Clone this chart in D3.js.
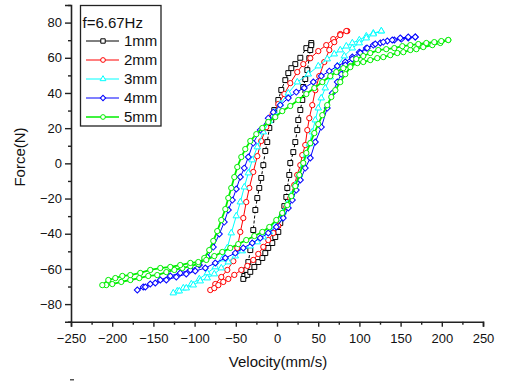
<!DOCTYPE html>
<html>
<head>
<meta charset="utf-8">
<script src="https://cdn.jsdelivr.net/npm/d3@7"></script>
<style>
  body { margin: 0; background: #fff; }
  svg { display: block; font-family: "Liberation Sans", Arial, sans-serif; }
</style>
</head>
<body>
<div id="container"></div>
<script>
// series labels
const seriesNames = ["1mm", "2mm", "3mm", "4mm", "5mm"];
const legendTitle = "f=6.67Hz";
const xTicks = [-250, -200, -150, -100, -50, 0, 50, 100, 150, 200, 250];
const yTicks = [-80, -60, -40, -20, 0, 20, 40, 60, 80];

// 1mm loop (velocity mm/s, force N)
const vel1mm = [41.6, 35.6, 28.3, 22.2, 17.4, 13.7, 10.1, 5.2, 1.6, -3.3, -6.9, -9.3, -11.8, -14.2, -16.6, -19.1, -21.5, -23.9, -26.3, -28.8, -32.4, -34.8, -37.3, -39.7, -40.9,
  -36.0, -32.4, -27.5, -22.7, -17.8, -14.2, -10.6, -5.7, -2.1, 1.6, 4.0, 6.4, 8.9, 11.3, 12.5, 14.9, 16.1, 19.8, 22.2, 24.6, 25.8, 28.3, 30.7, 31.9, 34.3, 36.8, 39.2, 40.4, 41.6];
const force1mm = [68.4, 65.5, 60.0, 56.4, 54.1, 51.3, 47.3, 41.7, 36.0, 30.3, 24.6, 20.1, 12.1, 7.0, -1.0, -8.3, -14.0, -19.7, -26.5, -37.9, -49.3, -56.1, -60.6, -64.0, -65.7,
  -63.4, -61.7, -58.9, -56.1, -53.8, -51.0, -48.1, -45.3, -41.9, -39.0, -33.9, -29.4, -24.3, -19.1, -14.0, -6.6, 0.2, 6.4, 12.1, 18.9, 24.6, 30.3, 36.0, 43.4, 47.9, 53.0, 59.8, 64.4, 67.2];

// 2mm loop
const vel2mm = [85.3, 76.8, 68.3, 59.8, 50.1, 40.4, 31.9, 24.6, 16.1, 8.9, 1.6, -5.7, -13.0, -19.1, -23.9, -28.8, -33.6, -37.3, -40.9, -44.5, -48.2, -53.0, -60.3, -67.6, -74.9, -81.0,
  -76.1, -71.2, -65.2, -59.1, -51.8, -43.3, -36.0, -28.8, -22.7, -16.6, -10.6, -4.5, 1.6, 6.4, 11.3, 16.1, 21.0, 24.6, 28.3, 30.7, 34.3, 36.8, 39.2, 42.8, 46.5, 51.3, 57.4, 63.5, 69.5, 76.8, 84.1];
const force2mm = [75.2, 73.5, 70.6, 67.2, 63.8, 59.8, 56.4, 51.9, 45.6, 39.4, 33.7, 27.4, 20.6, 12.7, 4.1, -4.9, -14.0, -22.0, -31.1, -39.0, -48.1, -55.6, -60.6, -64.6, -68.6, -72.0,
  -70.9, -69.2, -67.4, -65.7, -63.4, -60.6, -58.3, -54.9, -51.5, -47.5, -43.6, -39.6, -35.6, -30.5, -24.8, -19.7, -12.3, -6.6, -1.0, 4.7, 10.4, 18.9, 25.7, 33.1, 41.6, 49.6, 57.6, 64.4, 68.9, 72.9, 75.2];

// 3mm loop
const vel3mm = [126.6, 116.9, 108.4, 99.9, 91.4, 84.1, 76.8, 69.5, 61.0, 50.1, 38.0, 24.6, 13.7, 4.0, -3.3, -9.3, -16.6, -23.9, -30.0, -34.8, -39.7, -44.5, -49.4, -55.5, -60.3, -66.4, -74.9, -84.6, -94.3, -104.0, -113.7, -121.0, -125.9,
  -118.6, -110.1, -101.6, -93.1, -84.6, -76.1, -67.6, -59.1, -50.6, -42.1, -32.4, -23.9, -16.6, -9.3, -3.3, 2.8, 7.6, 12.5, 17.4, 22.2, 27.1, 31.9, 35.6, 39.2, 42.8, 46.5, 50.1, 53.7, 58.6, 64.7, 73.2, 81.7, 91.4, 99.9, 108.4, 116.9, 126.6];
const force3mm = [75.2, 74.0, 72.3, 70.1, 68.4, 66.6, 64.4, 62.1, 59.3, 55.3, 50.7, 46.2, 39.9, 33.7, 29.1, 24.0, 17.8, 9.3, 1.9, -5.5, -13.5, -22.0, -29.9, -39.6, -48.1, -54.4, -58.9, -62.3, -65.7, -68.6, -70.9, -72.6, -73.7,
  -72.6, -70.9, -69.2, -66.9, -65.2, -62.9, -59.5, -56.1, -52.7, -49.8, -47.0, -44.7, -41.9, -39.0, -35.6, -31.6, -27.7, -23.1, -18.0, -12.3, -6.6, -1.0, 4.7, 11.0, 17.8, 24.6, 31.4, 37.1, 42.8, 49.0, 55.3, 61.0, 65.5, 68.4, 71.2, 73.5, 75.2];

// 4mm loop
const vel4mm = [167.8, 159.3, 150.9, 142.4, 133.9, 125.4, 116.9, 108.4, 99.9, 91.4, 82.9, 73.2, 63.5, 53.8, 44.1, 33.1, 23.4, 13.7, 4.0, -4.5, -10.6, -20.3, -28.8, -34.8, -39.7, -44.5, -49.4, -54.2, -59.1, -64.0, -70.0, -77.3, -84.6, -94.3, -105.2, -117.4, -129.5, -141.6, -153.8, -162.3, -169.5,
  -159.8, -147.7, -134.3, -122.2, -110.1, -99.2, -87.0, -74.9, -62.7, -50.6, -40.9, -30.0, -20.3, -10.6, -0.8, 7.6, 13.7, 18.6, 23.4, 28.3, 34.3, 40.4, 46.5, 53.8, 61.0, 67.1, 73.2, 78.0, 82.9, 91.4, 101.1, 109.6, 119.3, 129.0, 139.9, 149.6, 159.3, 167.8];
const force4mm = [71.8, 71.2, 70.6, 70.1, 69.5, 68.4, 67.2, 65.5, 63.2, 60.4, 57.6, 55.3, 52.4, 49.6, 46.2, 42.8, 40.5, 37.1, 33.1, 29.1, 25.7, 18.9, 11.5, 3.6, -2.7, -7.8, -14.6, -20.9, -26.5, -33.4, -40.2, -47.6, -53.2, -57.8, -60.6, -62.3, -64.0, -66.3, -68.6, -70.3, -72.0,
  -70.3, -68.0, -66.3, -64.6, -62.9, -61.2, -59.5, -56.6, -53.8, -51.0, -48.1, -45.3, -42.4, -39.6, -36.2, -31.1, -25.4, -20.9, -15.2, -9.5, -2.7, 3.0, 12.1, 20.6, 31.4, 39.9, 46.2, 50.7, 55.9, 59.3, 62.7, 65.5, 67.8, 68.9, 70.1, 71.2, 71.8, 71.8];

// 5mm loop
const vel5mm = [207.9, 198.2, 188.5, 177.5, 169.1, 161.8, 153.3, 146.0, 137.5, 129.0, 121.7, 113.2, 104.7, 97.5, 89.0, 80.5, 72.0, 64.7, 55.0, 45.3, 35.6, 25.8, 16.1, 6.4, -2.1, -10.6, -17.8, -25.1, -32.4, -38.5, -43.3, -48.2, -51.8, -55.5, -59.1, -62.7, -67.6, -72.5, -77.3, -82.2, -88.2, -95.5, -105.2, -114.9, -124.6, -134.3, -145.3, -156.2, -167.1, -178.0, -189.0, -199.9, -207.2, -212.0,
  -204.7, -196.2, -187.7, -178.0, -165.9, -153.8, -141.6, -129.5, -117.4, -105.2, -95.5, -85.8, -76.1, -66.4, -56.7, -47.0, -37.3, -27.5, -17.8, -9.3, -0.8, 6.4, 12.5, 17.4, 22.2, 27.1, 31.9, 35.6, 40.4, 45.3, 50.1, 55.0, 61.0, 65.9, 70.8, 76.8, 82.9, 89.0, 96.2, 104.7, 113.2, 122.9, 132.6, 142.4, 152.1, 161.8, 171.5, 181.2, 190.9, 199.4, 207.9];
const force5mm = [70.1, 68.4, 67.2, 66.1, 64.9, 64.4, 63.2, 62.7, 61.5, 60.4, 59.8, 58.7, 57.6, 57.0, 55.3, 54.1, 51.9, 49.6, 46.2, 42.8, 39.4, 36.0, 32.6, 29.7, 26.3, 23.5, 20.1, 16.6, 12.7, 8.1, 3.6, -2.1, -7.8, -14.0, -19.7, -26.0, -32.2, -38.5, -44.1, -49.3, -53.8, -57.2, -58.4, -59.5, -60.6, -61.8, -63.5, -64.0, -65.2, -66.3, -67.4, -68.6, -69.2, -69.2,
  -66.3, -65.2, -64.0, -63.5, -62.3, -60.6, -59.5, -58.9, -57.8, -56.6, -56.1, -54.9, -52.7, -50.4, -48.1, -45.9, -43.6, -41.3, -39.0, -36.2, -32.2, -28.2, -23.7, -18.6, -12.9, -6.6, 0.2, 5.9, 11.5, 17.2, 22.3, 27.4, 33.1, 37.7, 41.6, 46.2, 50.7, 54.7, 59.3, 61.0, 62.7, 64.4, 64.9, 65.5, 66.6, 67.2, 67.8, 68.4, 68.9, 69.5, 70.1];

const w = 506;
const h = 383;
const margin = { left: 71, right: 23, top: 5, bottom: 61.3 };

const svg = d3.select("#container").append("svg")
  .attr("width", w).attr("height", h);

const x = d3.scaleLinear().domain([-250, 250]).range([margin.left, w - margin.right]);
const y = d3.scaleLinear().domain([-90, 90]).range([h - margin.bottom, margin.top]);

const colors = ["#000000", "#ff0000", "#00ffff", "#0000ff", "#00ee00"];
const symbols = [d3.symbolSquare, d3.symbolCircle, d3.symbolTriangle, d3.symbolSquare, d3.symbolCircle];
const symSize = [24, 22, 18, 18, 22];
const symRot = [0, 0, 0, 45, 0];
const lineW = [1, 1, 1, 1, 1.8];
const dash = ["3,2", null, null, null, null];

const loops = [
  d3.zip(vel1mm, force1mm),
  d3.zip(vel2mm, force2mm),
  d3.zip(vel3mm, force3mm),
  d3.zip(vel4mm, force4mm),
  d3.zip(vel5mm, force5mm)
];

// axes
const axisColor = "#222";
const xMinor = d3.range(-225, 250, 50);
const yMinor = d3.range(-90, 91, 20);

const xAxisGroup = svg.append("g")
  .attr("transform", "translate(0," + (h - margin.bottom) + ")")
  .call(d3.axisBottom(x).tickValues(xTicks).tickSize(5).tickPadding(7).tickFormat(d3.format("d")));
svg.append("g")
  .attr("transform", "translate(0," + (h - margin.bottom) + ")")
  .call(d3.axisBottom(x).tickValues(xMinor).tickSize(3).tickFormat(""))
  .select(".domain").remove();

const yAxisGroup = svg.append("g")
  .attr("transform", "translate(" + margin.left + ",0)")
  .call(d3.axisLeft(y).tickValues(yTicks).tickSize(6).tickPadding(3).tickFormat(d3.format("d")));
svg.append("g")
  .attr("transform", "translate(" + margin.left + ",0)")
  .call(d3.axisLeft(y).tickValues(yMinor).tickSize(3).tickFormat(""))
  .select(".domain").remove();

svg.selectAll(".domain").attr("stroke", axisColor).attr("stroke-width", 1.6);
svg.selectAll(".tick line").attr("stroke", axisColor).attr("stroke-width", 1.4);
svg.selectAll(".tick text").attr("fill", "#111").style("font-size", "13px")
  .style("font-family", "'Liberation Sans', Arial, sans-serif");

// axis titles
svg.append("text")
  .attr("x", (x(-250) + x(250)) / 2 + 1)
  .attr("y", 367)
  .attr("text-anchor", "middle")
  .style("font-size", "15px")
  .attr("fill", "#111")
  .text("Velocity(mm/s)");

svg.append("text")
  .attr("transform", "translate(25,157) rotate(-90)")
  .attr("text-anchor", "middle")
  .style("font-size", "15px")
  .attr("fill", "#111")
  .text("Force(N)");

// loops
const line = d3.line().x(d => x(d[0])).y(d => y(d[1]));

loops.forEach(function (data, i) {
  const g = svg.append("g");
  g.append("path")
    .datum(data)
    .attr("d", line)
    .attr("fill", "none")
    .attr("stroke", colors[i])
    .attr("stroke-width", lineW[i])
    .attr("stroke-dasharray", dash[i]);
  g.selectAll("path.pt").data(data).enter().append("path")
    .attr("class", "pt")
    .attr("d", d3.symbol().type(symbols[i]).size(symSize[i]))
    .attr("transform", d => "translate(" + x(d[0]) + "," + y(d[1]) + ") rotate(" + symRot[i] + ")")
    .attr("fill", "#fff")
    .attr("stroke", colors[i])
    .attr("stroke-width", 1);
});

// legend
const legend = svg.append("g");
legend.append("rect")
  .attr("x", 80.5).attr("y", 5.5)
  .attr("width", 80.5).attr("height", 120.5)
  .attr("fill", "#fff")
  .attr("stroke", "#222")
  .attr("stroke-width", 1.3);
legend.append("text")
  .attr("x", 82.5).attr("y", 27.5)
  .style("font-size", "15px")
  .attr("fill", "#111")
  .text(legendTitle);

seriesNames.forEach(function (name, i) {
  const cy = 41 + i * 19;
  legend.append("line")
    .attr("x1", 86).attr("x2", 119)
    .attr("y1", cy).attr("y2", cy)
    .attr("stroke", colors[i])
    .attr("stroke-width", i === 4 ? 1.5 : 1);
  legend.append("path")
    .attr("d", d3.symbol().type(symbols[i]).size(symSize[i] * 0.8))
    .attr("transform", "translate(103," + cy + ") rotate(" + symRot[i] + ")")
    .attr("fill", "#fff")
    .attr("stroke", colors[i])
    .attr("stroke-width", 1);
  legend.append("text")
    .attr("x", 124).attr("y", cy + 5.3)
    .style("font-size", "15px")
    .attr("fill", "#111")
    .text(name);
});

// stray mark below the axis in the source image
svg.append("rect")
  .attr("x", 70).attr("y", 379).attr("width", 4).attr("height", 1.5)
  .attr("fill", "#555");
</script>
</body>
</html>
